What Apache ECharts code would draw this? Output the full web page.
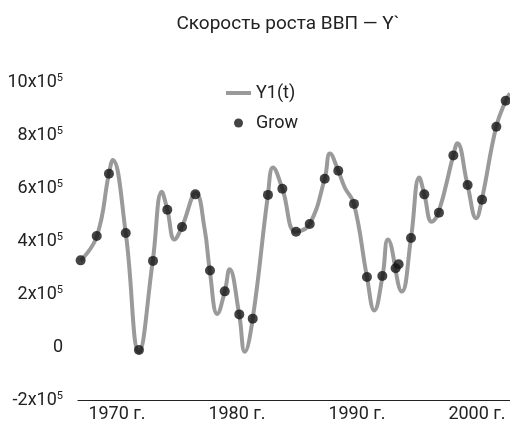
<!DOCTYPE html>
<html>
<head>
<meta charset="utf-8">
<script src="https://cdn.jsdelivr.net/npm/echarts@6/dist/echarts.min.js"></script>
<style>
html,body{margin:0;padding:0;background:#fff;}
#chart{width:510px;height:435px;}
</style>
</head>
<body>
<div id="chart"></div>
<script>
// Smooth curve Y1(t): key points (year, value)
var curveYears = [1966.97,1968.31,1969.33,1969.64,1970.73,1971.83,1972.98,1973.73,1974.19,1974.79,1975.40,1976.58,1977.29,1977.73,1978.36,1978.98,1979.38,1980.18,1980.65,1981.31,1982.58,1983.00,1983.78,1984.92,1986.04,1987.31,1987.75,1988.44,1989.00,1989.75,1990.83,1991.44,1992.13,1992.58,1993.73,1994.50,1995.19,1995.61,1996.23,1996.79,1998.03,1998.36,1999.21,1999.94,2000.40,2001.60,2002.39,2002.75];
var curveValues = [326000,417000,655000,706000,429000,-19000,325000,586000,519000,406000,452000,581000,449000,289000,125000,209000,293000,124000,-18000,107000,574000,677000,597000,435000,463000,635000,730000,665000,600000,540000,264000,138000,268000,406000,209000,411000,640000,576000,473000,507000,724000,769000,611000,486000,555000,831000,929000,957000];

// Observed points "Grow"
var growYears = [1966.97,1968.31,1969.33,1970.73,1971.83,1973.00,1974.19,1975.42,1976.53,1977.75,1978.98,1980.19,1981.31,1982.58,1983.78,1984.92,1986.06,1987.31,1988.44,1989.75,1990.83,1992.11,1993.22,1993.47,1994.50,1995.61,1996.83,1998.03,1999.22,2000.42,2001.61,2002.39];
var growValues = [327000,419000,654000,430000,-11000,325000,518000,453000,576000,289000,210000,123000,107000,574000,597000,435000,464000,635000,665000,540000,264000,268000,297000,312000,411000,576000,507000,723000,611000,556000,831000,929000];

var xTickValues = [1970,1980,1990,2000];
var xTickSuffix = ' г.';
var titleText = 'Скорость роста ВВП — Y`';

var FONT = 'Roboto, "Liberation Sans", sans-serif';

function zip(a,b){ return a.map(function(v,i){ return [v,b[i]]; }); }

var chart = echarts.init(document.getElementById('chart'), null, {renderer:'canvas'});
chart.setOption({
  backgroundColor:'#fff',
  animation:false,
  title:{
    text:titleText,
    left:283, top:10, textAlign:'center',
    textStyle:{fontFamily:FONT,fontSize:19,fontWeight:'normal',color:'#222'}
  },
  legend:[{
    data:[{name:'Y1(t)',icon:'rect'}],
    orient:'vertical',
    left:221, top:79,
    itemWidth:25, itemHeight:4,
    textStyle:{fontFamily:FONT,fontSize:18,color:'#222'}
  },{
    data:[{name:'Grow',icon:'circle'}],
    orient:'vertical',
    left:229, top:109,
    itemWidth:25, itemHeight:9,
    textStyle:{fontFamily:FONT,fontSize:18,color:'#222'}
  }],
  grid:{left:78,right:0,top:82,bottom:35,containLabel:false},
  xAxis:{
    type:'value',
    min:1966.75, max:2002.75,
    axisLine:{show:true,onZero:false,lineStyle:{color:'#222',width:1.2}},
    axisTick:{show:false},
    splitLine:{show:false},
    axisLabel:{
      customValues:xTickValues,
      margin:5,
      fontFamily:FONT,fontSize:18,color:'#222',
      formatter:function(v){ return v + xTickSuffix; }
    }
  },
  yAxis:{
    type:'value',
    min:-200000, max:1000000, interval:200000,
    axisLine:{show:false},
    axisTick:{show:false},
    splitLine:{show:false},
    axisLabel:{
      margin:15,
      fontFamily:FONT,fontSize:18,color:'#222',
      formatter:function(v){
        if(v===0) return '0';
        return '{b|' + (v/100000) + 'x10}{s|5}';
      },
      rich:{
        b:{fontFamily:FONT,fontSize:18,color:'#222'},
        s:{fontFamily:FONT,fontSize:11,color:'#222',padding:[0,0,8,0]}
      }
    }
  },
  series:[{
    name:'Y1(t)',
    type:'line',
    data:zip(curveYears,curveValues),
    smooth:0.45,
    symbol:'none',
    lineStyle:{color:'#9a9a9a',width:4},
    itemStyle:{color:'#9a9a9a'},
    z:1
  },{
    name:'Grow',
    type:'scatter',
    data:zip(growYears,growValues),
    symbol:'circle',
    symbolSize:10,
    itemStyle:{color:'#151515'},
    z:2
  }]
});
</script>
</body>
</html>
